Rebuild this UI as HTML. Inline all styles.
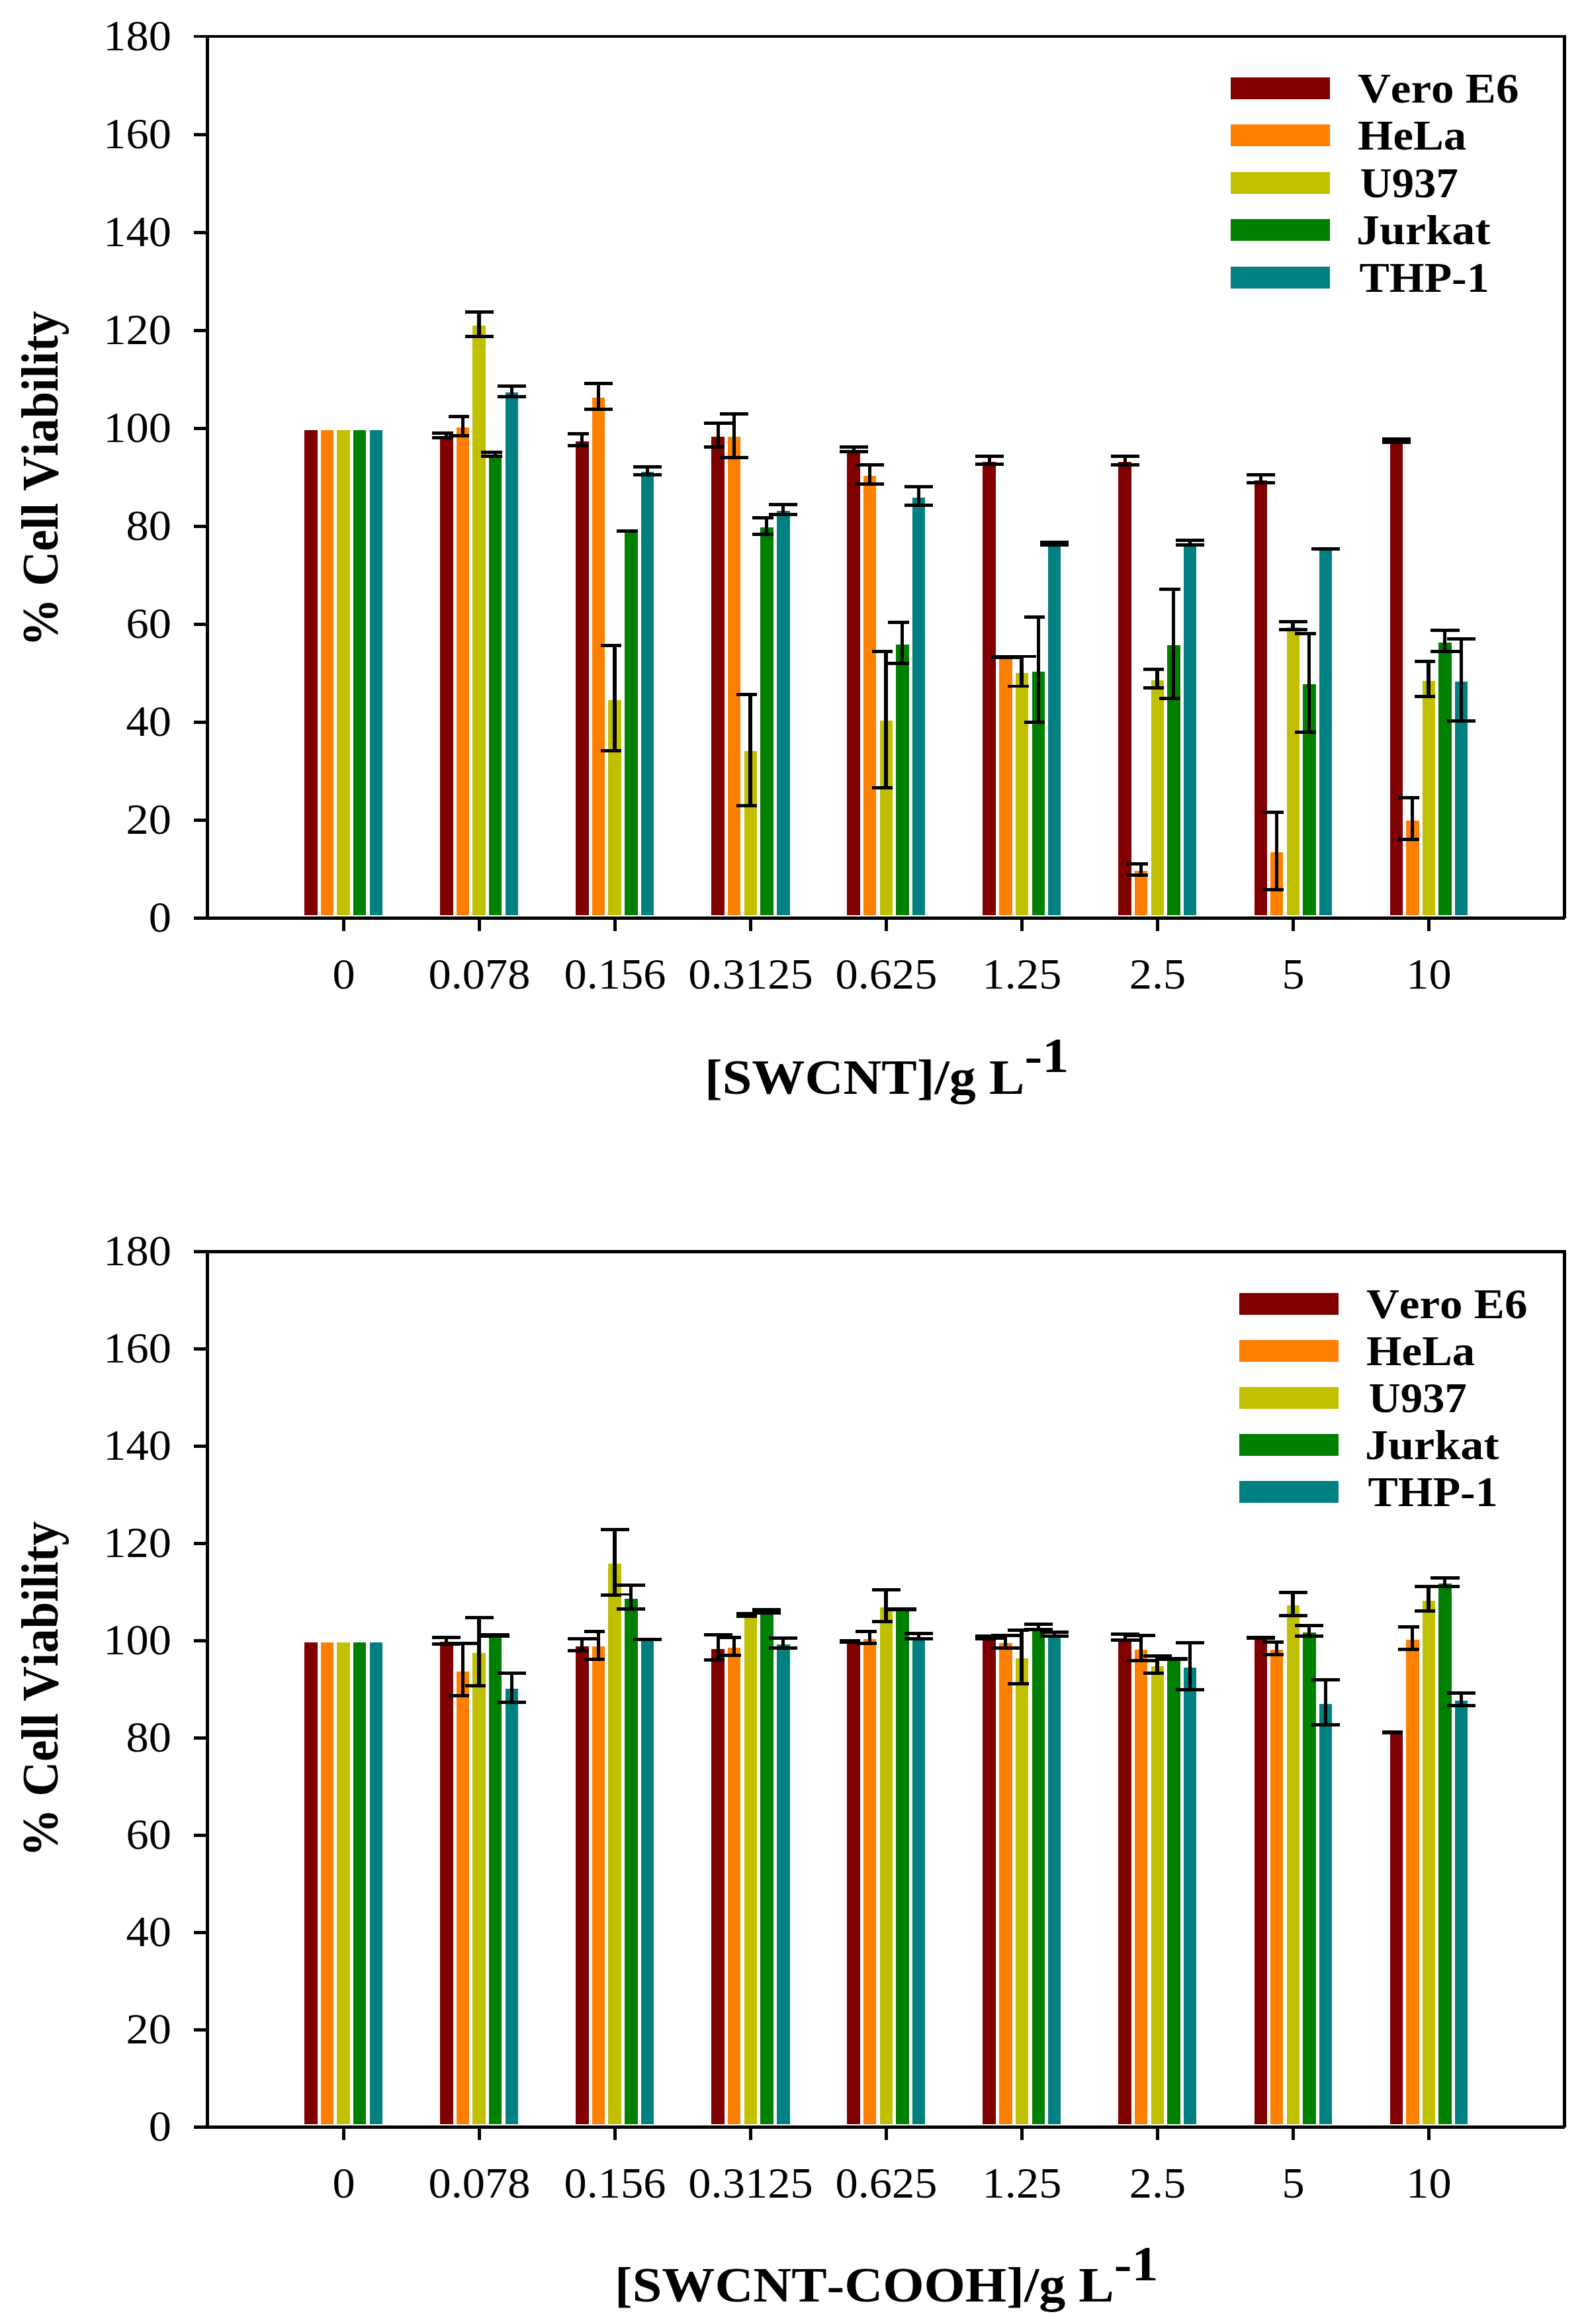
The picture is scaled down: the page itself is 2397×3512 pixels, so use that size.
<!DOCTYPE html>
<html><head><meta charset="utf-8"><title>Cell viability</title>
<style>
html,body{margin:0;padding:0;background:#fff}
svg{display:block}
text{font-family:"Liberation Serif",serif;fill:#000;font-kerning:none;font-variant-ligatures:none}
.tk{font-size:65px}
.lg{font-size:64px;font-weight:bold}
.tt{font-size:74px;font-weight:bold}
.yt{font-size:73px;font-weight:bold}
</style></head><body>
<svg width="2397" height="3512" viewBox="0 0 2397 3512" shape-rendering="crispEdges">
<rect x="0" y="0" width="2397" height="3512" fill="#fff"/>
<rect x="455" y="645" width="30" height="741" fill="#fff"/>
<rect x="460" y="650" width="20" height="733" fill="#800000"/>
<rect x="660" y="655" width="30" height="731" fill="#fff"/>
<rect x="665" y="660" width="20" height="723" fill="#800000"/>
<rect x="653" y="652" width="43" height="5" fill="#000"/>
<rect x="653" y="659" width="43" height="5" fill="#000"/>
<rect x="672" y="657" width="5" height="2" fill="#000"/>
<rect x="865" y="662" width="30" height="724" fill="#fff"/>
<rect x="870" y="667" width="20" height="716" fill="#800000"/>
<rect x="858" y="653" width="44" height="5" fill="#000"/>
<rect x="858" y="671" width="44" height="5" fill="#000"/>
<rect x="877" y="658" width="5" height="13" fill="#000"/>
<rect x="1070" y="655" width="30" height="731" fill="#fff"/>
<rect x="1075" y="660" width="20" height="723" fill="#800000"/>
<rect x="1064" y="637" width="43" height="5" fill="#000"/>
<rect x="1064" y="673" width="43" height="5" fill="#000"/>
<rect x="1083" y="642" width="5" height="31" fill="#000"/>
<rect x="1275" y="676" width="30" height="710" fill="#fff"/>
<rect x="1280" y="681" width="20" height="702" fill="#800000"/>
<rect x="1269" y="673" width="43" height="5" fill="#000"/>
<rect x="1269" y="680" width="43" height="5" fill="#000"/>
<rect x="1288" y="678" width="5" height="2" fill="#000"/>
<rect x="1480" y="693" width="30" height="693" fill="#fff"/>
<rect x="1485" y="698" width="20" height="685" fill="#800000"/>
<rect x="1474" y="687" width="43" height="5" fill="#000"/>
<rect x="1474" y="699" width="43" height="5" fill="#000"/>
<rect x="1493" y="692" width="5" height="7" fill="#000"/>
<rect x="1685" y="693" width="30" height="693" fill="#fff"/>
<rect x="1690" y="698" width="20" height="685" fill="#800000"/>
<rect x="1679" y="687" width="43" height="5" fill="#000"/>
<rect x="1679" y="700" width="43" height="5" fill="#000"/>
<rect x="1698" y="692" width="5" height="8" fill="#000"/>
<rect x="1891" y="721" width="29" height="665" fill="#fff"/>
<rect x="1896" y="726" width="19" height="657" fill="#800000"/>
<rect x="1884" y="715" width="43" height="5" fill="#000"/>
<rect x="1884" y="727" width="43" height="5" fill="#000"/>
<rect x="1903" y="720" width="5" height="7" fill="#000"/>
<rect x="2096" y="663" width="29" height="723" fill="#fff"/>
<rect x="2101" y="668" width="19" height="715" fill="#800000"/>
<rect x="2089" y="661" width="43" height="5" fill="#000"/>
<rect x="2089" y="666" width="43" height="5" fill="#000"/>
<rect x="480" y="645" width="29" height="741" fill="#fff"/>
<rect x="485" y="650" width="19" height="733" fill="#FF8000"/>
<rect x="685" y="641" width="29" height="745" fill="#fff"/>
<rect x="690" y="646" width="19" height="737" fill="#FF8000"/>
<rect x="678" y="627" width="43" height="5" fill="#000"/>
<rect x="678" y="656" width="43" height="5" fill="#000"/>
<rect x="697" y="632" width="5" height="24" fill="#000"/>
<rect x="890" y="596" width="29" height="790" fill="#fff"/>
<rect x="895" y="601" width="19" height="782" fill="#FF8000"/>
<rect x="883" y="577" width="43" height="5" fill="#000"/>
<rect x="883" y="616" width="43" height="5" fill="#000"/>
<rect x="902" y="582" width="5" height="34" fill="#000"/>
<rect x="1095" y="655" width="29" height="731" fill="#fff"/>
<rect x="1100" y="660" width="19" height="723" fill="#FF8000"/>
<rect x="1088" y="623" width="43" height="5" fill="#000"/>
<rect x="1088" y="689" width="43" height="5" fill="#000"/>
<rect x="1107" y="628" width="5" height="61" fill="#000"/>
<rect x="1300" y="714" width="29" height="672" fill="#fff"/>
<rect x="1305" y="719" width="19" height="664" fill="#FF8000"/>
<rect x="1293" y="700" width="43" height="5" fill="#000"/>
<rect x="1293" y="729" width="43" height="5" fill="#000"/>
<rect x="1312" y="705" width="5" height="24" fill="#000"/>
<rect x="1505" y="990" width="30" height="396" fill="#fff"/>
<rect x="1510" y="995" width="20" height="388" fill="#FF8000"/>
<rect x="1498" y="990" width="43" height="5" fill="#000"/>
<rect x="1498" y="991" width="43" height="5" fill="#000"/>
<rect x="1710" y="1311" width="29" height="75" fill="#fff"/>
<rect x="1715" y="1316" width="19" height="67" fill="#FF8000"/>
<rect x="1703" y="1303" width="43" height="5" fill="#000"/>
<rect x="1703" y="1320" width="43" height="5" fill="#000"/>
<rect x="1722" y="1308" width="5" height="12" fill="#000"/>
<rect x="1915" y="1283" width="29" height="103" fill="#fff"/>
<rect x="1920" y="1288" width="19" height="95" fill="#FF8000"/>
<rect x="1908" y="1225" width="43" height="5" fill="#000"/>
<rect x="1908" y="1342" width="43" height="5" fill="#000"/>
<rect x="1927" y="1230" width="5" height="112" fill="#000"/>
<rect x="2120" y="1235" width="30" height="151" fill="#fff"/>
<rect x="2125" y="1240" width="20" height="143" fill="#FF8000"/>
<rect x="2113" y="1203" width="43" height="5" fill="#000"/>
<rect x="2113" y="1266" width="43" height="5" fill="#000"/>
<rect x="2132" y="1208" width="5" height="58" fill="#000"/>
<rect x="504" y="645" width="30" height="741" fill="#fff"/>
<rect x="509" y="650" width="20" height="733" fill="#C0C000"/>
<rect x="709" y="487" width="30" height="899" fill="#fff"/>
<rect x="714" y="492" width="20" height="891" fill="#C0C000"/>
<rect x="703" y="469" width="43" height="5" fill="#000"/>
<rect x="703" y="506" width="43" height="5" fill="#000"/>
<rect x="721" y="474" width="6" height="32" fill="#000"/>
<rect x="914" y="1053" width="30" height="333" fill="#fff"/>
<rect x="919" y="1058" width="20" height="325" fill="#C0C000"/>
<rect x="908" y="973" width="43" height="5" fill="#000"/>
<rect x="908" y="1132" width="43" height="5" fill="#000"/>
<rect x="926" y="978" width="6" height="154" fill="#000"/>
<rect x="1120" y="1130" width="29" height="256" fill="#fff"/>
<rect x="1125" y="1135" width="19" height="248" fill="#C0C000"/>
<rect x="1113" y="1047" width="43" height="5" fill="#000"/>
<rect x="1113" y="1215" width="43" height="5" fill="#000"/>
<rect x="1131" y="1052" width="6" height="163" fill="#000"/>
<rect x="1325" y="1084" width="29" height="302" fill="#fff"/>
<rect x="1330" y="1089" width="19" height="294" fill="#C0C000"/>
<rect x="1318" y="982" width="43" height="5" fill="#000"/>
<rect x="1318" y="1188" width="43" height="5" fill="#000"/>
<rect x="1336" y="987" width="6" height="201" fill="#000"/>
<rect x="1530" y="1012" width="29" height="374" fill="#fff"/>
<rect x="1535" y="1017" width="19" height="366" fill="#C0C000"/>
<rect x="1523" y="990" width="43" height="4" fill="#000"/>
<rect x="1523" y="1035" width="43" height="4" fill="#000"/>
<rect x="1541" y="994" width="6" height="41" fill="#000"/>
<rect x="1735" y="1023" width="29" height="363" fill="#fff"/>
<rect x="1740" y="1028" width="19" height="355" fill="#C0C000"/>
<rect x="1728" y="1009" width="43" height="5" fill="#000"/>
<rect x="1728" y="1037" width="43" height="5" fill="#000"/>
<rect x="1746" y="1014" width="6" height="23" fill="#000"/>
<rect x="1940" y="943" width="29" height="443" fill="#fff"/>
<rect x="1945" y="948" width="19" height="435" fill="#C0C000"/>
<rect x="1933" y="937" width="43" height="5" fill="#000"/>
<rect x="1933" y="949" width="43" height="5" fill="#000"/>
<rect x="1951" y="942" width="6" height="7" fill="#000"/>
<rect x="2145" y="1024" width="29" height="362" fill="#fff"/>
<rect x="2150" y="1029" width="19" height="354" fill="#C0C000"/>
<rect x="2138" y="997" width="43" height="5" fill="#000"/>
<rect x="2138" y="1050" width="43" height="5" fill="#000"/>
<rect x="2156" y="1002" width="6" height="48" fill="#000"/>
<rect x="529" y="645" width="29" height="741" fill="#fff"/>
<rect x="534" y="650" width="19" height="733" fill="#008000"/>
<rect x="734" y="684" width="29" height="702" fill="#fff"/>
<rect x="739" y="689" width="19" height="694" fill="#008000"/>
<rect x="727" y="681" width="43" height="5" fill="#000"/>
<rect x="727" y="687" width="43" height="5" fill="#000"/>
<rect x="746" y="686" width="5" height="1" fill="#000"/>
<rect x="939" y="800" width="30" height="586" fill="#fff"/>
<rect x="944" y="805" width="20" height="578" fill="#008000"/>
<rect x="932" y="800" width="43" height="5" fill="#000"/>
<rect x="932" y="800" width="43" height="5" fill="#000"/>
<rect x="1144" y="792" width="30" height="594" fill="#fff"/>
<rect x="1149" y="797" width="20" height="586" fill="#008000"/>
<rect x="1137" y="780" width="43" height="5" fill="#000"/>
<rect x="1137" y="805" width="43" height="5" fill="#000"/>
<rect x="1156" y="785" width="5" height="20" fill="#000"/>
<rect x="1349" y="969" width="30" height="417" fill="#fff"/>
<rect x="1354" y="974" width="20" height="409" fill="#008000"/>
<rect x="1342" y="938" width="43" height="5" fill="#000"/>
<rect x="1342" y="1000" width="43" height="5" fill="#000"/>
<rect x="1361" y="943" width="5" height="57" fill="#000"/>
<rect x="1555" y="1010" width="29" height="376" fill="#fff"/>
<rect x="1560" y="1015" width="19" height="368" fill="#008000"/>
<rect x="1548" y="930" width="43" height="5" fill="#000"/>
<rect x="1548" y="1089" width="43" height="5" fill="#000"/>
<rect x="1567" y="935" width="5" height="154" fill="#000"/>
<rect x="1759" y="970" width="30" height="416" fill="#fff"/>
<rect x="1764" y="975" width="20" height="408" fill="#008000"/>
<rect x="1752" y="888" width="43" height="5" fill="#000"/>
<rect x="1752" y="1053" width="43" height="5" fill="#000"/>
<rect x="1771" y="893" width="5" height="160" fill="#000"/>
<rect x="1964" y="1029" width="30" height="357" fill="#fff"/>
<rect x="1969" y="1034" width="20" height="349" fill="#008000"/>
<rect x="1957" y="955" width="43" height="5" fill="#000"/>
<rect x="1957" y="1104" width="43" height="5" fill="#000"/>
<rect x="1976" y="960" width="5" height="144" fill="#000"/>
<rect x="2169" y="966" width="30" height="420" fill="#fff"/>
<rect x="2174" y="971" width="20" height="412" fill="#008000"/>
<rect x="2162" y="950" width="44" height="5" fill="#000"/>
<rect x="2162" y="982" width="44" height="5" fill="#000"/>
<rect x="2181" y="955" width="5" height="27" fill="#000"/>
<rect x="554" y="645" width="29" height="741" fill="#fff"/>
<rect x="559" y="650" width="19" height="733" fill="#008080"/>
<rect x="759" y="588" width="29" height="798" fill="#fff"/>
<rect x="764" y="593" width="19" height="790" fill="#008080"/>
<rect x="752" y="581" width="43" height="5" fill="#000"/>
<rect x="752" y="597" width="43" height="5" fill="#000"/>
<rect x="771" y="586" width="5" height="11" fill="#000"/>
<rect x="964" y="708" width="29" height="678" fill="#fff"/>
<rect x="969" y="713" width="19" height="670" fill="#008080"/>
<rect x="957" y="703" width="43" height="5" fill="#000"/>
<rect x="957" y="715" width="43" height="5" fill="#000"/>
<rect x="976" y="708" width="5" height="7" fill="#000"/>
<rect x="1169" y="767" width="30" height="619" fill="#fff"/>
<rect x="1174" y="772" width="20" height="611" fill="#008080"/>
<rect x="1162" y="760" width="43" height="5" fill="#000"/>
<rect x="1162" y="775" width="43" height="5" fill="#000"/>
<rect x="1181" y="765" width="5" height="10" fill="#000"/>
<rect x="1374" y="747" width="29" height="639" fill="#fff"/>
<rect x="1379" y="752" width="19" height="631" fill="#008080"/>
<rect x="1367" y="733" width="43" height="5" fill="#000"/>
<rect x="1367" y="761" width="43" height="5" fill="#000"/>
<rect x="1386" y="738" width="5" height="23" fill="#000"/>
<rect x="1579" y="819" width="29" height="567" fill="#fff"/>
<rect x="1584" y="824" width="19" height="559" fill="#008080"/>
<rect x="1572" y="817" width="43" height="5" fill="#000"/>
<rect x="1572" y="821" width="43" height="5" fill="#000"/>
<rect x="1784" y="817" width="29" height="569" fill="#fff"/>
<rect x="1789" y="822" width="19" height="561" fill="#008080"/>
<rect x="1777" y="814" width="43" height="5" fill="#000"/>
<rect x="1777" y="821" width="43" height="5" fill="#000"/>
<rect x="1796" y="819" width="5" height="2" fill="#000"/>
<rect x="1989" y="827" width="29" height="559" fill="#fff"/>
<rect x="1994" y="832" width="19" height="551" fill="#008080"/>
<rect x="1982" y="827" width="43" height="5" fill="#000"/>
<rect x="1982" y="827" width="43" height="5" fill="#000"/>
<rect x="2194" y="1025" width="29" height="361" fill="#fff"/>
<rect x="2199" y="1030" width="19" height="353" fill="#008080"/>
<rect x="2187" y="963" width="43" height="5" fill="#000"/>
<rect x="2187" y="1087" width="43" height="5" fill="#000"/>
<rect x="2206" y="968" width="5" height="119" fill="#000"/>
<rect x="293" y="53" width="2074" height="4" fill="#000"/>
<rect x="293" y="1385" width="2072" height="5" fill="#000"/>
<rect x="311" y="53" width="5" height="1337" fill="#000"/>
<rect x="2362" y="53" width="5" height="1335" fill="#000"/>
<text class="tk" text-anchor="end" transform="translate(259,76.0) scale(1.0535,1)">180</text>
<rect x="293" y="201" width="18" height="5" fill="#000"/>
<text class="tk" text-anchor="end" transform="translate(259,224.0) scale(1.0535,1)">160</text>
<rect x="293" y="349" width="18" height="5" fill="#000"/>
<text class="tk" text-anchor="end" transform="translate(259,372.0) scale(1.0535,1)">140</text>
<rect x="293" y="497" width="18" height="5" fill="#000"/>
<text class="tk" text-anchor="end" transform="translate(259,520.0) scale(1.0535,1)">120</text>
<rect x="293" y="645" width="18" height="5" fill="#000"/>
<text class="tk" text-anchor="end" transform="translate(259,668.0) scale(1.0535,1)">100</text>
<rect x="293" y="793" width="18" height="5" fill="#000"/>
<text class="tk" text-anchor="end" transform="translate(259,816.0) scale(1.0535,1)">80</text>
<rect x="293" y="941" width="18" height="5" fill="#000"/>
<text class="tk" text-anchor="end" transform="translate(259,964.0) scale(1.0535,1)">60</text>
<rect x="293" y="1089" width="18" height="5" fill="#000"/>
<text class="tk" text-anchor="end" transform="translate(259,1112.0) scale(1.0535,1)">40</text>
<rect x="293" y="1237" width="18" height="5" fill="#000"/>
<text class="tk" text-anchor="end" transform="translate(259,1260.0) scale(1.0535,1)">20</text>
<text class="tk" text-anchor="end" transform="translate(259,1408.0) scale(1.0535,1)">0</text>
<rect x="517" y="1390" width="5" height="17" fill="#000"/>
<text class="tk" text-anchor="middle" transform="translate(519.5,1493.5) scale(1.0535,1)">0</text>
<rect x="722" y="1390" width="5" height="17" fill="#000"/>
<text class="tk" text-anchor="middle" transform="translate(724.5,1493.5) scale(1.0535,1)">0.078</text>
<rect x="927" y="1390" width="5" height="17" fill="#000"/>
<text class="tk" text-anchor="middle" transform="translate(929.5,1493.5) scale(1.0535,1)">0.156</text>
<rect x="1132" y="1390" width="5" height="17" fill="#000"/>
<text class="tk" text-anchor="middle" transform="translate(1134.5,1493.5) scale(1.0535,1)">0.3125</text>
<rect x="1337" y="1390" width="5" height="17" fill="#000"/>
<text class="tk" text-anchor="middle" transform="translate(1339.5,1493.5) scale(1.0535,1)">0.625</text>
<rect x="1542" y="1390" width="5" height="17" fill="#000"/>
<text class="tk" text-anchor="middle" transform="translate(1544.5,1493.5) scale(1.0535,1)">1.25</text>
<rect x="1747" y="1390" width="5" height="17" fill="#000"/>
<text class="tk" text-anchor="middle" transform="translate(1749.5,1493.5) scale(1.0535,1)">2.5</text>
<rect x="1952" y="1390" width="5" height="17" fill="#000"/>
<text class="tk" text-anchor="middle" transform="translate(1954.5,1493.5) scale(1.0535,1)">5</text>
<rect x="2157" y="1390" width="5" height="17" fill="#000"/>
<text class="tk" text-anchor="middle" transform="translate(2159.5,1493.5) scale(1.0535,1)">10</text>
<rect x="455" y="2477" width="30" height="736" fill="#fff"/>
<rect x="460" y="2482" width="20" height="728" fill="#800000"/>
<rect x="660" y="2476" width="30" height="737" fill="#fff"/>
<rect x="665" y="2481" width="20" height="729" fill="#800000"/>
<rect x="653" y="2472" width="43" height="5" fill="#000"/>
<rect x="653" y="2482" width="43" height="5" fill="#000"/>
<rect x="672" y="2477" width="5" height="5" fill="#000"/>
<rect x="865" y="2483" width="30" height="730" fill="#fff"/>
<rect x="870" y="2488" width="20" height="722" fill="#800000"/>
<rect x="858" y="2474" width="44" height="5" fill="#000"/>
<rect x="858" y="2492" width="44" height="5" fill="#000"/>
<rect x="877" y="2479" width="5" height="13" fill="#000"/>
<rect x="1070" y="2487" width="30" height="726" fill="#fff"/>
<rect x="1075" y="2492" width="20" height="718" fill="#800000"/>
<rect x="1064" y="2468" width="43" height="5" fill="#000"/>
<rect x="1064" y="2506" width="43" height="5" fill="#000"/>
<rect x="1083" y="2473" width="5" height="33" fill="#000"/>
<rect x="1275" y="2478" width="30" height="735" fill="#fff"/>
<rect x="1280" y="2483" width="20" height="727" fill="#800000"/>
<rect x="1269" y="2477" width="43" height="5" fill="#000"/>
<rect x="1269" y="2479" width="43" height="5" fill="#000"/>
<rect x="1480" y="2472" width="30" height="741" fill="#fff"/>
<rect x="1485" y="2477" width="20" height="733" fill="#800000"/>
<rect x="1474" y="2470" width="43" height="5" fill="#000"/>
<rect x="1474" y="2474" width="43" height="5" fill="#000"/>
<rect x="1685" y="2471" width="30" height="742" fill="#fff"/>
<rect x="1690" y="2476" width="20" height="734" fill="#800000"/>
<rect x="1679" y="2467" width="43" height="5" fill="#000"/>
<rect x="1679" y="2476" width="43" height="5" fill="#000"/>
<rect x="1698" y="2472" width="5" height="4" fill="#000"/>
<rect x="1891" y="2472" width="29" height="741" fill="#fff"/>
<rect x="1896" y="2477" width="19" height="733" fill="#800000"/>
<rect x="1884" y="2472" width="43" height="5" fill="#000"/>
<rect x="1884" y="2473" width="43" height="5" fill="#000"/>
<rect x="2096" y="2615" width="29" height="598" fill="#fff"/>
<rect x="2101" y="2620" width="19" height="590" fill="#800000"/>
<rect x="2089" y="2615" width="43" height="5" fill="#000"/>
<rect x="2089" y="2616" width="43" height="5" fill="#000"/>
<rect x="480" y="2477" width="29" height="736" fill="#fff"/>
<rect x="485" y="2482" width="19" height="728" fill="#FF8000"/>
<rect x="685" y="2521" width="29" height="692" fill="#fff"/>
<rect x="690" y="2526" width="19" height="684" fill="#FF8000"/>
<rect x="678" y="2481" width="43" height="5" fill="#000"/>
<rect x="678" y="2560" width="43" height="5" fill="#000"/>
<rect x="697" y="2486" width="5" height="74" fill="#000"/>
<rect x="890" y="2483" width="29" height="730" fill="#fff"/>
<rect x="895" y="2488" width="19" height="722" fill="#FF8000"/>
<rect x="883" y="2463" width="43" height="5" fill="#000"/>
<rect x="883" y="2505" width="43" height="5" fill="#000"/>
<rect x="902" y="2468" width="5" height="37" fill="#000"/>
<rect x="1095" y="2485" width="29" height="728" fill="#fff"/>
<rect x="1100" y="2490" width="19" height="720" fill="#FF8000"/>
<rect x="1088" y="2472" width="43" height="5" fill="#000"/>
<rect x="1088" y="2499" width="43" height="5" fill="#000"/>
<rect x="1107" y="2477" width="5" height="22" fill="#000"/>
<rect x="1300" y="2472" width="29" height="741" fill="#fff"/>
<rect x="1305" y="2477" width="19" height="733" fill="#FF8000"/>
<rect x="1293" y="2463" width="43" height="5" fill="#000"/>
<rect x="1293" y="2481" width="43" height="5" fill="#000"/>
<rect x="1312" y="2468" width="5" height="13" fill="#000"/>
<rect x="1505" y="2478" width="30" height="735" fill="#fff"/>
<rect x="1510" y="2483" width="20" height="727" fill="#FF8000"/>
<rect x="1498" y="2469" width="43" height="5" fill="#000"/>
<rect x="1498" y="2488" width="43" height="5" fill="#000"/>
<rect x="1517" y="2474" width="5" height="14" fill="#000"/>
<rect x="1710" y="2488" width="29" height="725" fill="#fff"/>
<rect x="1715" y="2493" width="19" height="717" fill="#FF8000"/>
<rect x="1703" y="2469" width="43" height="5" fill="#000"/>
<rect x="1703" y="2507" width="43" height="5" fill="#000"/>
<rect x="1722" y="2474" width="5" height="33" fill="#000"/>
<rect x="1915" y="2488" width="29" height="725" fill="#fff"/>
<rect x="1920" y="2493" width="19" height="717" fill="#FF8000"/>
<rect x="1908" y="2479" width="43" height="5" fill="#000"/>
<rect x="1908" y="2498" width="43" height="5" fill="#000"/>
<rect x="1927" y="2484" width="5" height="14" fill="#000"/>
<rect x="2120" y="2473" width="30" height="740" fill="#fff"/>
<rect x="2125" y="2478" width="20" height="732" fill="#FF8000"/>
<rect x="2113" y="2456" width="43" height="5" fill="#000"/>
<rect x="2113" y="2490" width="43" height="5" fill="#000"/>
<rect x="2132" y="2461" width="5" height="29" fill="#000"/>
<rect x="504" y="2477" width="30" height="736" fill="#fff"/>
<rect x="509" y="2482" width="20" height="728" fill="#C0C000"/>
<rect x="709" y="2493" width="30" height="720" fill="#fff"/>
<rect x="714" y="2498" width="20" height="712" fill="#C0C000"/>
<rect x="703" y="2442" width="43" height="5" fill="#000"/>
<rect x="703" y="2545" width="43" height="5" fill="#000"/>
<rect x="721" y="2447" width="6" height="98" fill="#000"/>
<rect x="914" y="2358" width="30" height="855" fill="#fff"/>
<rect x="919" y="2363" width="20" height="847" fill="#C0C000"/>
<rect x="908" y="2309" width="43" height="5" fill="#000"/>
<rect x="908" y="2408" width="43" height="5" fill="#000"/>
<rect x="926" y="2314" width="6" height="94" fill="#000"/>
<rect x="1120" y="2438" width="29" height="775" fill="#fff"/>
<rect x="1125" y="2443" width="19" height="767" fill="#C0C000"/>
<rect x="1113" y="2436" width="43" height="5" fill="#000"/>
<rect x="1113" y="2440" width="43" height="5" fill="#000"/>
<rect x="1325" y="2424" width="29" height="789" fill="#fff"/>
<rect x="1330" y="2429" width="19" height="781" fill="#C0C000"/>
<rect x="1318" y="2400" width="43" height="5" fill="#000"/>
<rect x="1318" y="2448" width="43" height="5" fill="#000"/>
<rect x="1336" y="2405" width="6" height="43" fill="#000"/>
<rect x="1530" y="2501" width="29" height="712" fill="#fff"/>
<rect x="1535" y="2506" width="19" height="704" fill="#C0C000"/>
<rect x="1523" y="2461" width="43" height="5" fill="#000"/>
<rect x="1523" y="2542" width="43" height="5" fill="#000"/>
<rect x="1541" y="2466" width="6" height="76" fill="#000"/>
<rect x="1735" y="2513" width="29" height="700" fill="#fff"/>
<rect x="1740" y="2518" width="19" height="692" fill="#C0C000"/>
<rect x="1728" y="2500" width="43" height="5" fill="#000"/>
<rect x="1728" y="2526" width="43" height="5" fill="#000"/>
<rect x="1746" y="2505" width="6" height="21" fill="#000"/>
<rect x="1940" y="2421" width="29" height="792" fill="#fff"/>
<rect x="1945" y="2426" width="19" height="784" fill="#C0C000"/>
<rect x="1933" y="2404" width="43" height="5" fill="#000"/>
<rect x="1933" y="2439" width="43" height="5" fill="#000"/>
<rect x="1951" y="2409" width="6" height="30" fill="#000"/>
<rect x="2145" y="2414" width="29" height="799" fill="#fff"/>
<rect x="2150" y="2419" width="19" height="791" fill="#C0C000"/>
<rect x="2138" y="2395" width="43" height="5" fill="#000"/>
<rect x="2138" y="2432" width="43" height="5" fill="#000"/>
<rect x="2156" y="2400" width="6" height="32" fill="#000"/>
<rect x="529" y="2477" width="29" height="736" fill="#fff"/>
<rect x="534" y="2482" width="19" height="728" fill="#008000"/>
<rect x="734" y="2469" width="29" height="744" fill="#fff"/>
<rect x="739" y="2474" width="19" height="736" fill="#008000"/>
<rect x="727" y="2468" width="43" height="5" fill="#000"/>
<rect x="727" y="2470" width="43" height="5" fill="#000"/>
<rect x="939" y="2411" width="30" height="802" fill="#fff"/>
<rect x="944" y="2416" width="20" height="794" fill="#008000"/>
<rect x="932" y="2393" width="43" height="5" fill="#000"/>
<rect x="932" y="2429" width="43" height="5" fill="#000"/>
<rect x="951" y="2398" width="5" height="31" fill="#000"/>
<rect x="1144" y="2432" width="30" height="781" fill="#fff"/>
<rect x="1149" y="2437" width="20" height="773" fill="#008000"/>
<rect x="1137" y="2430" width="43" height="5" fill="#000"/>
<rect x="1137" y="2435" width="43" height="5" fill="#000"/>
<rect x="1349" y="2429" width="30" height="784" fill="#fff"/>
<rect x="1354" y="2434" width="20" height="776" fill="#008000"/>
<rect x="1342" y="2429" width="43" height="5" fill="#000"/>
<rect x="1342" y="2430" width="43" height="5" fill="#000"/>
<rect x="1555" y="2456" width="29" height="757" fill="#fff"/>
<rect x="1560" y="2461" width="19" height="749" fill="#008000"/>
<rect x="1548" y="2452" width="43" height="5" fill="#000"/>
<rect x="1548" y="2460" width="43" height="5" fill="#000"/>
<rect x="1567" y="2457" width="5" height="3" fill="#000"/>
<rect x="1759" y="2504" width="30" height="709" fill="#fff"/>
<rect x="1764" y="2509" width="20" height="701" fill="#008000"/>
<rect x="1752" y="2504" width="43" height="5" fill="#000"/>
<rect x="1752" y="2505" width="43" height="5" fill="#000"/>
<rect x="1964" y="2462" width="30" height="751" fill="#fff"/>
<rect x="1969" y="2467" width="20" height="743" fill="#008000"/>
<rect x="1957" y="2454" width="43" height="5" fill="#000"/>
<rect x="1957" y="2470" width="43" height="5" fill="#000"/>
<rect x="1976" y="2459" width="5" height="11" fill="#000"/>
<rect x="2169" y="2388" width="30" height="825" fill="#fff"/>
<rect x="2174" y="2393" width="20" height="817" fill="#008000"/>
<rect x="2162" y="2382" width="44" height="5" fill="#000"/>
<rect x="2162" y="2395" width="44" height="5" fill="#000"/>
<rect x="2181" y="2387" width="5" height="8" fill="#000"/>
<rect x="554" y="2477" width="29" height="736" fill="#fff"/>
<rect x="559" y="2482" width="19" height="728" fill="#008080"/>
<rect x="759" y="2547" width="29" height="666" fill="#fff"/>
<rect x="764" y="2552" width="19" height="658" fill="#008080"/>
<rect x="752" y="2526" width="43" height="5" fill="#000"/>
<rect x="752" y="2570" width="43" height="5" fill="#000"/>
<rect x="771" y="2531" width="5" height="39" fill="#000"/>
<rect x="964" y="2475" width="29" height="738" fill="#fff"/>
<rect x="969" y="2480" width="19" height="730" fill="#008080"/>
<rect x="957" y="2475" width="43" height="5" fill="#000"/>
<rect x="957" y="2475" width="43" height="5" fill="#000"/>
<rect x="1169" y="2480" width="30" height="733" fill="#fff"/>
<rect x="1174" y="2485" width="20" height="725" fill="#008080"/>
<rect x="1162" y="2473" width="43" height="5" fill="#000"/>
<rect x="1162" y="2488" width="43" height="5" fill="#000"/>
<rect x="1181" y="2478" width="5" height="10" fill="#000"/>
<rect x="1374" y="2470" width="29" height="743" fill="#fff"/>
<rect x="1379" y="2475" width="19" height="735" fill="#008080"/>
<rect x="1367" y="2466" width="43" height="5" fill="#000"/>
<rect x="1367" y="2474" width="43" height="5" fill="#000"/>
<rect x="1386" y="2471" width="5" height="3" fill="#000"/>
<rect x="1579" y="2466" width="29" height="747" fill="#fff"/>
<rect x="1584" y="2471" width="19" height="739" fill="#008080"/>
<rect x="1572" y="2464" width="43" height="5" fill="#000"/>
<rect x="1572" y="2470" width="43" height="5" fill="#000"/>
<rect x="1591" y="2469" width="5" height="1" fill="#000"/>
<rect x="1784" y="2515" width="29" height="698" fill="#fff"/>
<rect x="1789" y="2520" width="19" height="690" fill="#008080"/>
<rect x="1777" y="2480" width="43" height="5" fill="#000"/>
<rect x="1777" y="2551" width="43" height="5" fill="#000"/>
<rect x="1796" y="2485" width="5" height="66" fill="#000"/>
<rect x="1989" y="2570" width="29" height="643" fill="#fff"/>
<rect x="1994" y="2575" width="19" height="635" fill="#008080"/>
<rect x="1982" y="2536" width="43" height="5" fill="#000"/>
<rect x="1982" y="2604" width="43" height="5" fill="#000"/>
<rect x="2001" y="2541" width="5" height="63" fill="#000"/>
<rect x="2194" y="2565" width="29" height="648" fill="#fff"/>
<rect x="2199" y="2570" width="19" height="640" fill="#008080"/>
<rect x="2187" y="2556" width="43" height="5" fill="#000"/>
<rect x="2187" y="2575" width="43" height="5" fill="#000"/>
<rect x="2206" y="2561" width="5" height="14" fill="#000"/>
<rect x="293" y="1889" width="2074" height="5" fill="#000"/>
<rect x="293" y="3212" width="2072" height="5" fill="#000"/>
<rect x="311" y="1889" width="5" height="1328" fill="#000"/>
<rect x="2362" y="1889" width="5" height="1326" fill="#000"/>
<text class="tk" text-anchor="end" transform="translate(259,1912.0) scale(1.0535,1)">180</text>
<rect x="293" y="2036" width="18" height="5" fill="#000"/>
<text class="tk" text-anchor="end" transform="translate(259,2059.0) scale(1.0535,1)">160</text>
<rect x="293" y="2183" width="18" height="5" fill="#000"/>
<text class="tk" text-anchor="end" transform="translate(259,2206.0) scale(1.0535,1)">140</text>
<rect x="293" y="2330" width="18" height="5" fill="#000"/>
<text class="tk" text-anchor="end" transform="translate(259,2353.0) scale(1.0535,1)">120</text>
<rect x="293" y="2477" width="18" height="5" fill="#000"/>
<text class="tk" text-anchor="end" transform="translate(259,2500.0) scale(1.0535,1)">100</text>
<rect x="293" y="2624" width="18" height="5" fill="#000"/>
<text class="tk" text-anchor="end" transform="translate(259,2647.0) scale(1.0535,1)">80</text>
<rect x="293" y="2771" width="18" height="5" fill="#000"/>
<text class="tk" text-anchor="end" transform="translate(259,2794.0) scale(1.0535,1)">60</text>
<rect x="293" y="2918" width="18" height="5" fill="#000"/>
<text class="tk" text-anchor="end" transform="translate(259,2941.0) scale(1.0535,1)">40</text>
<rect x="293" y="3065" width="18" height="5" fill="#000"/>
<text class="tk" text-anchor="end" transform="translate(259,3088.0) scale(1.0535,1)">20</text>
<text class="tk" text-anchor="end" transform="translate(259,3235.0) scale(1.0535,1)">0</text>
<rect x="517" y="3217" width="5" height="17" fill="#000"/>
<text class="tk" text-anchor="middle" transform="translate(519.5,3320.5) scale(1.0535,1)">0</text>
<rect x="722" y="3217" width="5" height="17" fill="#000"/>
<text class="tk" text-anchor="middle" transform="translate(724.5,3320.5) scale(1.0535,1)">0.078</text>
<rect x="927" y="3217" width="5" height="17" fill="#000"/>
<text class="tk" text-anchor="middle" transform="translate(929.5,3320.5) scale(1.0535,1)">0.156</text>
<rect x="1132" y="3217" width="5" height="17" fill="#000"/>
<text class="tk" text-anchor="middle" transform="translate(1134.5,3320.5) scale(1.0535,1)">0.3125</text>
<rect x="1337" y="3217" width="5" height="17" fill="#000"/>
<text class="tk" text-anchor="middle" transform="translate(1339.5,3320.5) scale(1.0535,1)">0.625</text>
<rect x="1542" y="3217" width="5" height="17" fill="#000"/>
<text class="tk" text-anchor="middle" transform="translate(1544.5,3320.5) scale(1.0535,1)">1.25</text>
<rect x="1747" y="3217" width="5" height="17" fill="#000"/>
<text class="tk" text-anchor="middle" transform="translate(1749.5,3320.5) scale(1.0535,1)">2.5</text>
<rect x="1952" y="3217" width="5" height="17" fill="#000"/>
<text class="tk" text-anchor="middle" transform="translate(1954.5,3320.5) scale(1.0535,1)">5</text>
<rect x="2157" y="3217" width="5" height="17" fill="#000"/>
<text class="tk" text-anchor="middle" transform="translate(2159.5,3320.5) scale(1.0535,1)">10</text>
<rect x="1860" y="117" width="150" height="33" fill="#800000"/>
<text class="lg" transform="translate(2052,155) scale(1.0786,1)">Vero E6</text>
<rect x="1860" y="188" width="150" height="33" fill="#FF8000"/>
<text class="lg" transform="translate(2052,226) scale(1.0743,1)">HeLa</text>
<rect x="1860" y="260" width="150" height="33" fill="#C0C000"/>
<text class="lg" transform="translate(2055.5,298) scale(1.0433,1)">U937</text>
<rect x="1860" y="331" width="150" height="33" fill="#008000"/>
<text class="lg" transform="translate(2050,369) scale(1.0957,1)">Jurkat</text>
<rect x="1860" y="403" width="150" height="33" fill="#008080"/>
<text class="lg" transform="translate(2054.5,441) scale(1.0614,1)">THP-1</text>
<rect x="1873" y="1954" width="150" height="33" fill="#800000"/>
<text class="lg" transform="translate(2065,1992) scale(1.0786,1)">Vero E6</text>
<rect x="1873" y="2025" width="150" height="33" fill="#FF8000"/>
<text class="lg" transform="translate(2065,2063) scale(1.0743,1)">HeLa</text>
<rect x="1873" y="2096" width="150" height="33" fill="#C0C000"/>
<text class="lg" transform="translate(2068.5,2134) scale(1.0433,1)">U937</text>
<rect x="1873" y="2167" width="150" height="33" fill="#008000"/>
<text class="lg" transform="translate(2063,2205) scale(1.0957,1)">Jurkat</text>
<rect x="1873" y="2238" width="150" height="33" fill="#008080"/>
<text class="lg" transform="translate(2067.5,2276) scale(1.0614,1)">THP-1</text>
<text class="tt" transform="translate(1065,1652.8) scale(1.084,1)">[SWCNT]/g L<tspan dy="-32.5">-1</tspan></text>
<text class="tt" transform="translate(929,3478) scale(1.0833,1)">[SWCNT-COOH]/g L<tspan dy="-32.5">-1</tspan></text>
<text class="yt" transform="translate(86.5,977) rotate(-90) scale(1,1.085)">% Cell Viability</text>
<text class="yt" transform="translate(86.5,2806) rotate(-90) scale(1,1.085)">% Cell Viability</text>
</svg>
</body></html>
